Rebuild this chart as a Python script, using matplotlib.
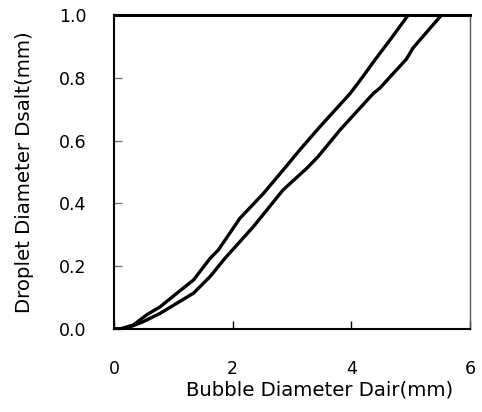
import numpy as np
import matplotlib.pyplot as plt

plt.rcParams['font.family'] = ['DejaVu Sans']

# upper curve
x_upper = [0, 0.1, 0.33, 0.55, 0.78, 1.06, 1.34, 1.62, 1.76, 2.12, 2.52, 2.85, 3.13, 3.47, 3.98, 4.2, 4.37, 4.65, 4.96]
y_upper = [0, 0, 0.013, 0.045, 0.071, 0.114, 0.156, 0.225, 0.252, 0.352, 0.432, 0.506, 0.57, 0.644, 0.75, 0.805, 0.85, 0.92, 1.0]

# lower curve
x_lower = [0, 0.21, 0.49, 0.78, 1.06, 1.34, 1.62, 1.87, 2.35, 2.85, 3.25, 3.44, 3.81, 4.37, 4.48, 4.93, 5.04, 5.52]
y_lower = [0, 0.002, 0.023, 0.05, 0.082, 0.114, 0.167, 0.225, 0.326, 0.443, 0.512, 0.549, 0.634, 0.75, 0.767, 0.86, 0.895, 1.0]

xticks = [0, 2, 4, 6]
yticks = [0.0, 0.2, 0.4, 0.6, 0.8, 1.0]

fig = plt.figure(figsize=(4.82, 4.12), dpi=100)
ax = fig.add_axes([0.2365, 0.2015, 0.7385, 0.762])

ax.plot(x_upper, y_upper, color='k', lw=2.4, solid_joinstyle='round', solid_capstyle='round')
ax.plot(x_lower, y_lower, color='k', lw=2.4, solid_joinstyle='round', solid_capstyle='round')

ax.set_xlim(0, 6)
ax.set_ylim(0, 1.0)
ax.set_xticks(xticks)
ax.set_yticks(yticks)
ax.set_xticklabels([str(t) for t in xticks])
ax.set_yticklabels(['%.1f' % t for t in yticks])

ax.tick_params(axis='both', direction='in', length=6, width=1, labelsize=12.5)
ax.tick_params(axis='x', pad=22)
ax.tick_params(axis='y', pad=20, color='#777777')

ax.spines['top'].set_linewidth(2.2)
ax.spines['left'].set_linewidth(1.5)
ax.spines['bottom'].set_linewidth(1.5)
ax.spines['right'].set_linewidth(1)
ax.spines['right'].set_color('#555555')

xl = ax.set_xlabel('Bubble Diameter Dair(mm)', fontsize=14.2)
yl = ax.set_ylabel('Droplet Diameter Dsalt(mm)', fontsize=14.2)
xl.set_va('center')
yl.set_va('center')
ax.xaxis.set_label_coords(0.579, -0.194)
ax.yaxis.set_label_coords(-0.252, 0.5)

fig.savefig('out.png', dpi=100)
